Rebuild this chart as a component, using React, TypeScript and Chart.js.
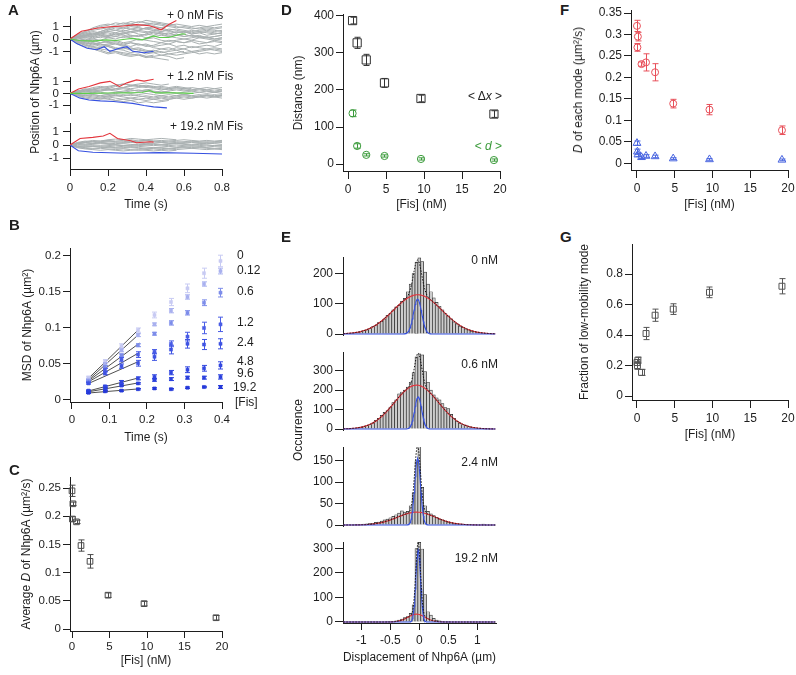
import React, { useEffect, useRef } from "react";
import { Chart, registerables } from "chart.js";

Chart.register(...registerables);

/* ====================== DATA ====================== */

// ---- Panel A: single-molecule trajectories (time s, position µm)
const A_TIME = [0, 0.04, 0.08, 0.12, 0.16, 0.2, 0.24, 0.28, 0.32, 0.36, 0.4, 0.44, 0.48, 0.52, 0.56, 0.6, 0.64, 0.68, 0.72, 0.76, 0.8];
const A_X_TICKS = [0, 0.2, 0.4, 0.6, 0.8];
const A_Y_TICKS = [-1, 0, 1];
const A_LABELS = ["+ 0 nM Fis", "+ 1.2 nM Fis", "+ 19.2 nM Fis"];

const A1_GRAY = [
  [0, 0.3, 0.5, 0.7, 0.8, 0.9, 1.0, 1.1, 1.2, 1.1, 1.2, 1.3, 1.2, 1.1, 1.2, 1.1, 1.0, 1.1, 1.0, 0.9, 1.0],
  [0, -0.3, -0.5, -0.7, -0.8, -0.9, -1.0, -1.1, -1.2, -1.3, -1.4, -1.5, -1.6, -1.7],
  [0, 0.2, 0.3, 0.5, 0.4, 0.6, 0.7, 0.6, 0.8, 0.9, 0.8, 0.7, 0.8, 0.6, 0.5, 0.6, 0.4, 0.5, 0.3, 0.4, 0.5],
  [0, -0.2, -0.3, -0.4, -0.6, -0.5, -0.7, -0.8, -0.7, -0.9, -1.0, -1.1, -1.0, -1.2, -1.3, -1.2, -1.1, -1.0, -0.9, -0.8, -0.9],
  [0, 0.1, 0.2, 0.1, 0.3, 0.2, 0.4, 0.3, 0.2, 0.3, 0.1, 0.2, 0.3, 0.2, 0.1, 0.0, 0.1, 0.2, 0.1, 0.0, 0.1],
  [0, -0.1, 0.0, -0.2, -0.1, -0.3, -0.2, -0.4, -0.3, -0.5, -0.4, -0.6, -0.5, -0.4, -0.6, -0.5, -0.7, -0.6, -0.5, -0.6, -0.4],
  [0, 0.3, 0.6, 0.8, 1.0, 1.1, 1.3, 1.2, 1.4, 1.3, 1.5, 1.4, 1.3],
  [0, -0.2, -0.5, -0.6, -0.9, -1.1, -1.0, -1.2, -1.3, -1.2, -1.4, -1.3],
  [0, 0.1, 0.3, 0.2, 0.4, 0.5, 0.3, 0.5, 0.6, 0.4, 0.3, 0.5, 0.4, 0.2, 0.3, 0.4, 0.2, 0.3, 0.1, 0.2, 0.3],
  [0, -0.1, -0.2, -0.1, -0.3, -0.2, -0.1, -0.3, -0.2, 0.0, -0.1, -0.2, -0.3, -0.1, -0.2, -0.3, -0.2, -0.4, -0.3, -0.2, -0.3],
  [0, 0.2, 0.4, 0.6, 0.5, 0.7, 0.9, 0.8, 1.0, 0.9, 0.8, 1.0, 0.9, 0.7, 0.8, 0.7, 0.6, 0.7, 0.8, 0.7, 0.6],
  [0, -0.3, -0.4, -0.6, -0.7, -0.6, -0.8, -0.7, -0.9, -0.8, -1.0, -0.9, -1.1, -1.0, -0.9, -1.1, -1.0, -1.2, -1.1, -1.2, -1.1],
  [0, 0.1, -0.1, 0.0, 0.2, 0.1, 0.0, 0.2, 0.1, -0.1, 0.0, 0.1, -0.1, -0.2, -0.1, 0.0, -0.1, 0.1, 0.0, -0.1, 0.0],
  [0, 0.2, 0.1, 0.3, 0.4, 0.3, 0.5, 0.7, 0.6, 0.7, 0.9, 1.0, 0.9, 1.1, 1.0, 0.9, 0.8, 0.9, 1.0, 1.1, 1.2],
  [0, -0.2, -0.1, -0.3, -0.4, -0.5, -0.4, -0.6, -0.8, -0.7, -0.9, -1.0, -0.8, -0.9, -0.7, -0.8, -0.6, -0.7, -0.8, -0.7, -0.8],
  [0, 0.1, 0.3, 0.4, 0.3, 0.2, 0.4, 0.5, 0.3, 0.2, 0.4, 0.6, 0.5, 0.3, 0.4, 0.2, 0.3, 0.1, 0.2, 0.0, 0.1],
  [0, 0.4, 0.6, 0.9, 1.1, 1.2, 1.1, 1.3, 1.2, 1.4, 1.3, 1.2, 1.1, 1.0, 0.9, 1.0, 0.9, 0.8, 0.9, 0.8, 0.9],
  [0, -0.4, -0.6, -0.8, -1.0, -1.2, -1.1, -1.3, -1.4, -1.3, -1.5, -1.4, -1.3, -1.2, -1.1, -1.0],
  [0, 0.2, 0.4, 0.3, 0.5, 0.6, 0.5, 0.4, 0.6, 0.7, 0.6, 0.5, 0.4, 0.5, 0.3, 0.2, 0.3, 0.2, 0.1, 0.2, 0.3],
  [0, -0.2, -0.4, -0.3, -0.5, -0.4, -0.3, -0.5, -0.6, -0.4, -0.5, -0.7, -0.8, -0.7, -0.9, -0.8, -1.0, -0.9, -0.8, -0.9, -1.0],
  [0, 0.1, 0.2, 0.4, 0.6, 0.8, 0.7, 0.9, 1.1, 1.0, 1.2, 1.1, 1.3, 1.2, 1.1],
  [0, -0.1, -0.3, -0.5, -0.4, -0.6, -0.8, -0.9, -1.1, -1.0, -1.2, -1.1, -1.3, -1.4, -1.6, -1.5],
  [0, 0.0, 0.1, 0.0, -0.1, 0.1, 0.2, 0.1, 0.3, 0.2, 0.4, 0.3, 0.5, 0.4, 0.6, 0.5, 0.7, 0.6, 0.5, 0.4, 0.5],
  [0, 0.2, 0.3, 0.2, 0.1, 0.3, 0.2, 0.4, 0.5, 0.6, 0.5, 0.7, 0.6, 0.8, 0.7, 0.6, 0.5, 0.6, 0.7, 0.6, 0.7],
  [0, -0.3, -0.2, -0.4, -0.3, -0.2, -0.4, -0.5, -0.3, -0.4, -0.6, -0.5, -0.3, -0.4, -0.2, -0.3, -0.1, -0.2, -0.3, -0.1, -0.2],
  [0, 0.3, 0.5, 0.4, 0.6, 0.8, 1.0, 0.9, 0.8, 0.7, 0.9, 0.8, 0.6, 0.7, 0.5, 0.6, 0.4, 0.5, 0.6, 0.5, 0.4],
];
const A2_GRAY = [
  [0, 0.2, 0.3, 0.4, 0.5, 0.4, 0.6, 0.5, 0.7, 0.6, 0.5, 0.6, 0.5, 0.4, 0.5, 0.4, 0.3, 0.4, 0.3, 0.4, 0.3],
  [0, -0.2, -0.3, -0.4, -0.5, -0.4, -0.6, -0.7, -0.6, -0.8, -0.7, -0.8, -0.7, -0.6],
  [0, 0.1, 0.2, 0.1, 0.2, 0.3, 0.2, 0.1, 0.2, 0.3, 0.2, 0.1, 0.2, 0.1, 0.0, 0.1, 0.2, 0.1, 0.2, 0.1, 0.2],
  [0, -0.1, -0.2, -0.1, -0.2, -0.3, -0.2, -0.3, -0.4, -0.3, -0.2, -0.3, -0.2, -0.3, -0.2, -0.1, -0.2, -0.3, -0.2, -0.3, -0.2],
  [0, 0.1, 0.3, 0.5, 0.6, 0.5, 0.7, 0.8, 0.7, 0.6, 0.7, 0.6],
  [0, -0.1, 0.0, 0.1, 0.0, -0.1, 0.0, 0.1, 0.0, 0.1, 0.2, 0.1, 0.0, 0.1, 0.0, -0.1, 0.0, 0.1, 0.0, 0.1, 0.0],
  [0, -0.2, -0.4, -0.5, -0.4, -0.5, -0.6, -0.5, -0.4, -0.5, -0.4, -0.5, -0.6, -0.5, -0.4, -0.3, -0.4, -0.3, -0.4, -0.3, -0.4],
  [0, 0.2, 0.3, 0.2, 0.3, 0.4, 0.3, 0.4, 0.3, 0.2, 0.3, 0.4, 0.3, 0.4, 0.5, 0.4, 0.5, 0.4, 0.5, 0.4, 0.5],
  [0, 0.1, 0.0, -0.1, -0.2, -0.1, -0.2, -0.1, -0.2, -0.1, 0.0, -0.1, -0.2, -0.1, -0.2, -0.1, -0.2, -0.1, -0.2, -0.1, -0.2],
  [0, 0.2, 0.4, 0.3, 0.5, 0.6, 0.7, 0.8, 0.7, 0.8, 0.9, 0.8, 0.7, 0.8],
  [0, 0.1, 0.2, 0.3, 0.2, 0.3, 0.4, 0.5, 0.4, 0.5, 0.6, 0.5, 0.4, 0.3, 0.4, 0.3, 0.2, 0.3, 0.2, 0.1, 0.2],
  [0, -0.1, -0.2, -0.3, -0.4, -0.3, -0.4, -0.5, -0.6, -0.5, -0.6, -0.5, -0.4, -0.5, -0.4, -0.5, -0.4, -0.3, -0.2, -0.3, -0.2],
  [0, 0.2, 0.1, 0.2, 0.1, 0.0, 0.1, 0.2, 0.3, 0.2, 0.3, 0.2, 0.1, 0.2, 0.3, 0.2, 0.3, 0.4, 0.3, 0.2, 0.3],
  [0, -0.2, -0.1, -0.2, -0.3, -0.2, -0.1, -0.2, -0.1, -0.2, -0.3, -0.4, -0.3, -0.4, -0.3, -0.2, -0.3, -0.2, -0.1, -0.2, -0.1],
  [0, 0.1, 0.2, 0.3, 0.4, 0.3, 0.4, 0.5, 0.6, 0.7, 0.6, 0.5, 0.6, 0.5, 0.6, 0.5, 0.4],
];
const A3_GRAY = [
  [0, 0.2, 0.3, 0.25, 0.3, 0.35, 0.3, 0.35, 0.4, 0.3, 0.35, 0.3, 0.35, 0.3, 0.35, 0.4, 0.35, 0.3, 0.35, 0.3, 0.35],
  [0, -0.2, -0.25, -0.3, -0.25, -0.3, -0.35, -0.3, -0.35, -0.4, -0.35, -0.3, -0.35, -0.3, -0.35, -0.3, -0.25, -0.3, -0.35, -0.3, -0.35],
  [0, 0.1, 0.15, 0.1, 0.2, 0.15, 0.1, 0.15, 0.2, 0.15, 0.1, 0.15, 0.2, 0.15, 0.1, 0.15, 0.2, 0.15, 0.1, 0.15, 0.2],
  [0, -0.1, -0.15, -0.1, -0.05, -0.1, -0.15, -0.1, -0.05, -0.1, -0.15, -0.2, -0.15, -0.1, -0.15, -0.1, -0.05, -0.1, -0.15, -0.1, -0.05],
  [0, 0.05, 0.0, 0.05, 0.1, 0.05, 0.0, -0.05, 0.0, 0.05, 0.0, -0.05, 0.0, 0.05, 0.1, 0.05, 0.0, 0.05, 0.0, -0.05, 0.0],
  [0, 0.15, 0.25, 0.35, 0.3, 0.4, 0.45, 0.4, 0.5, 0.45, 0.4, 0.45, 0.5, 0.45, 0.4],
  [0, -0.15, -0.2, -0.25, -0.2, -0.15, -0.2, -0.25, -0.2, -0.25, -0.3, -0.25, -0.2, -0.25, -0.2, -0.15, -0.2, -0.15, -0.2, -0.25, -0.2],
  [0, 0.1, 0.2, 0.25, 0.2, 0.25, 0.2, 0.25, 0.3, 0.25, 0.2, 0.25, 0.2, 0.15, 0.2, 0.25, 0.3, 0.25, 0.2, 0.25, 0.3],
  [0, -0.05, -0.1, -0.05, -0.1, -0.05, 0.0, -0.05, -0.1, -0.05, 0.0, 0.05, 0.0, -0.05, 0.0, -0.05, -0.1, -0.05, 0.0, -0.05, -0.1],
  [0, 0.1, 0.05, 0.1, 0.15, 0.1, 0.05, 0.1, 0.05, 0.0, 0.05, 0.1, 0.05, 0.1, 0.15, 0.1, 0.05, 0.1, 0.15, 0.1, 0.05],
  [0, -0.1, -0.05, -0.1, -0.15, -0.2, -0.25, -0.2, -0.15, -0.2, -0.25, -0.2, -0.25, -0.3, -0.25, -0.2, -0.25, -0.2, -0.25, -0.3, -0.25],
  [0, 0.15, 0.2, 0.15, 0.25, 0.3, 0.25, 0.2, 0.25, 0.3, 0.35, 0.3, 0.25, 0.3, 0.25, 0.2, 0.25, 0.2, 0.25, 0.2, 0.25],
  [0, -0.2, -0.3, -0.35, -0.4, -0.35, -0.4, -0.45, -0.4, -0.35, -0.4, -0.45, -0.4, -0.45, -0.4],
];
const A1_RED_T = [0, 0.06, 0.14, 0.21, 0.28, 0.35, 0.42, 0.48, 0.52, 0.56];
const A1_RED_Y = [0, 0.62, 0.86, 0.99, 1.04, 1.16, 1.06, 0.74, 1.16, 1.48];
const A1_BLUE_T = [0, 0.035, 0.09, 0.14, 0.18, 0.21, 0.26, 0.3, 0.33, 0.39, 0.44];
const A1_BLUE_Y = [0, -0.37, -0.74, -0.86, -0.62, -0.99, -0.74, -0.62, -0.99, -1.11, -0.99];
const A1_GREEN_T = [0, 0.05, 0.12, 0.19, 0.24, 0.3, 0.33, 0.38, 0.44, 0.47, 0.52, 0.59, 0.61];
const A1_GREEN_Y = [0, -0.12, -0.17, -0.07, -0.12, 0, 0.05, -0.07, 0.25, 0.12, 0.12, 0.42, 0.38];
const A2_RED_T = [0, 0.045, 0.1, 0.16, 0.21, 0.26, 0.3, 0.35, 0.39, 0.44];
const A2_RED_Y = [0, 0.38, 0.59, 0.9, 1.03, 0.59, 0.9, 1.15, 1.05, 1.21];
const A2_BLUE_T = [0, 0.05, 0.1, 0.16, 0.23, 0.28, 0.33, 0.39, 0.44, 0.51];
const A2_BLUE_Y = [0, -0.38, -0.56, -0.64, -0.69, -0.77, -0.85, -1.03, -1.15, -1.23];
const A2_GREEN_T = [0, 0.1, 0.2, 0.3, 0.38, 0.42, 0.45, 0.55, 0.65];
const A2_GREEN_Y = [0, 0.0, 0.03, 0.05, 0.08, 0.25, 0.05, 0.05, 0.0];
const A3_RED_T = [0, 0.053, 0.12, 0.175, 0.21, 0.25, 0.32, 0.35, 0.42, 0.44];
const A3_RED_Y = [0, 0.5, 0.58, 0.68, 0.89, 0.5, 0.33, 0.17, 0.25, 0.22];
const A3_BLUE_T = [0, 0.044, 0.12, 0.3, 0.47, 0.65, 0.8];
const A3_BLUE_Y = [0, -0.43, -0.55, -0.63, -0.58, -0.63, -0.68];

// ---- Panel B: MSD vs time for each [Fis]
const MSD_T = [0.044, 0.088, 0.132, 0.176, 0.22, 0.264, 0.308, 0.352, 0.396];
const MSD_FIS = ["0", "0.12", "0.6", "1.2", "2.4", "4.8", "9.6", "19.2"];
const MSD_VALUES = [
  [0.031, 0.054, 0.075, 0.097, 0.118, 0.136, 0.155, 0.176, 0.193],
  [0.029, 0.05, 0.069, 0.09, 0.105, 0.124, 0.143, 0.161, 0.179],
  [0.027, 0.046, 0.062, 0.076, 0.092, 0.107, 0.121, 0.135, 0.149],
  [0.025, 0.042, 0.056, 0.063, 0.067, 0.078, 0.088, 0.1, 0.105],
  [0.023, 0.037, 0.047, 0.051, 0.06, 0.07, 0.078, 0.077, 0.078],
  [0.013, 0.019, 0.025, 0.03, 0.032, 0.038, 0.042, 0.044, 0.048],
  [0.012, 0.016, 0.02, 0.023, 0.028, 0.029, 0.031, 0.031, 0.032],
  [0.01, 0.012, 0.013, 0.015, 0.016, 0.015, 0.017, 0.018, 0.018],
];
const MSD_ERRORS = [
  [0.002, 0.002, 0.003, 0.003, 0.004, 0.005, 0.006, 0.007, 0.008],
  [0.001, 0.002, 0.002, 0.002, 0.002, 0.003, 0.003, 0.003, 0.004],
  [0.001, 0.002, 0.002, 0.002, 0.002, 0.003, 0.003, 0.004, 0.006],
  [0.001, 0.002, 0.003, 0.004, 0.003, 0.004, 0.006, 0.008, 0.01],
  [0.001, 0.002, 0.003, 0.004, 0.005, 0.006, 0.006, 0.007, 0.007],
  [0.001, 0.001, 0.002, 0.002, 0.003, 0.003, 0.004, 0.004, 0.005],
  [0.001, 0.001, 0.001, 0.001, 0.002, 0.002, 0.002, 0.002, 0.003],
  [0.001, 0.001, 0.001, 0.001, 0.001, 0.001, 0.001, 0.001, 0.002],
];
const MSD_FIT_T = [0.04, 0.18];
const MSD_FIT_START = [0.028, 0.026, 0.025, 0.024, 0.022, 0.012, 0.011, 0.0095];
const MSD_FIT_END = [0.099, 0.092, 0.079, 0.066, 0.054, 0.031, 0.024, 0.0155];
const B_X_TICKS = [0, 0.1, 0.2, 0.3, 0.4];
const B_Y_TICKS = [0, 0.05, 0.1, 0.15, 0.2];

// ---- Shared Fis concentrations (nM) for C, F, G
const FIS = [0, 0.06, 0.12, 0.6, 1.2, 2.4, 4.8, 9.6, 19.2];
const FIS_TICKS = [0, 5, 10, 15, 20];

// ---- Panel C: average D
const C_D = [0.245, 0.195, 0.222, 0.19, 0.148, 0.12, 0.06, 0.045, 0.02];
const C_ERR = [0.01, 0.004, 0.003, 0.003, 0.01, 0.012, 0.004, 0.004, 0.004];
const C_Y_TICKS = [0, 0.05, 0.1, 0.15, 0.2, 0.25];

// ---- Panel D: distances
const D_FIS = [0.6, 1.2, 2.4, 4.8, 9.6, 19.2];
const D_DX = [387, 327, 281, 219, 177, 135];
const D_DX_ERR = [9, 15, 15, 12, 9, 9];
const D_SMALL = [137, 49, 25, 22, 14, 11];
const D_SMALL_ERR = [9, 6, 3, 3, 3, 3];
const D_Y_TICKS = [0, 100, 200, 300, 400];

// ---- Panel E: displacement histograms
const HIST_BINS = [-1.25, -1.2, -1.15, -1.1, -1.05, -1.0, -0.95, -0.9, -0.85, -0.8, -0.75, -0.7, -0.65, -0.6, -0.55, -0.5, -0.45, -0.4, -0.35, -0.3, -0.25, -0.2, -0.15, -0.1, -0.05, 0, 0.05, 0.1, 0.15, 0.2, 0.25, 0.3, 0.35, 0.4, 0.45, 0.5, 0.55, 0.6, 0.65, 0.7, 0.75, 0.8, 0.85, 0.9, 0.95, 1.0, 1.05, 1.1, 1.15, 1.2, 1.25];
const E_LABELS = ["0 nM", "0.6 nM", "2.4 nM", "19.2 nM"];
const E_COUNTS_0 = [0, 2, 3, 4, 6, 8, 12, 14, 18, 25, 28, 38, 42, 50, 62, 68, 80, 90, 95, 108, 118, 140, 165, 200, 238, 252, 240, 205, 165, 140, 120, 105, 92, 80, 68, 60, 50, 40, 34, 26, 22, 17, 14, 10, 8, 6, 4, 3, 2, 1, 0];
const E_COUNTS_06 = [0, 1, 2, 4, 6, 9, 12, 18, 22, 30, 45, 55, 70, 85, 95, 112, 135, 150, 180, 190, 200, 215, 240, 290, 370, 385, 380, 295, 240, 200, 175, 160, 150, 130, 110, 105, 75, 55, 40, 30, 22, 20, 12, 8, 5, 4, 3, 2, 1, 0, 0];
const E_COUNTS_24 = [0, 0, 0, 1, 0, 1, 2, 3, 4, 4, 6, 7, 9, 12, 14, 17, 20, 24, 28, 33, 30, 32, 45, 75, 150, 185, 88, 45, 32, 26, 22, 18, 14, 12, 9, 7, 5, 4, 3, 2, 2, 1, 1, 0, 0, 0, 0, 2, 0, 0, 0];
const E_COUNTS_192 = [0, 0, 0, 0, 0, 0, 0, 0, 0, 0, 0, 0, 0, 0, 1, 2, 3, 5, 8, 12, 18, 22, 35, 70, 300, 325, 298, 112, 42, 28, 15, 8, 5, 3, 2, 1, 0, 0, 0, 0, 0, 0, 0, 0, 0, 0, 0, 0, 0, 0, 0];
// Gaussian fit parameters: amplitude, centre (µm), sigma (µm)
const E_FAST_FIT = [
  { a: 130, mu: -0.03, s: 0.42 },
  { a: 225, mu: -0.05, s: 0.38 },
  { a: 30, mu: -0.05, s: 0.33 },
  { a: 32, mu: -0.05, s: 0.15 },
];
const E_SLOW_FIT = [
  { a: 115, mu: -0.03, s: 0.07 },
  { a: 165, mu: -0.02, s: 0.06 },
  { a: 155, mu: -0.03, s: 0.05 },
  { a: 295, mu: -0.02, s: 0.04 },
];
const E_X_TICKS = [-1, -0.5, 0, 0.5, 1];
const E_Y_TICKS = [[0, 100, 200], [0, 100, 200, 300], [0, 50, 100, 150], [0, 100, 200, 300]];

// ---- Panel F: D of each mode
const F_FAST = [0.32, 0.27, 0.295, 0.231, 0.235, 0.212, 0.139, 0.125, 0.077];
const F_FAST_ERR = [0.013, 0.009, 0.01, 0.005, 0.02, 0.02, 0.01, 0.012, 0.01];
const F_SLOW = [0.047, 0.027, 0.02, 0.014, 0.017, 0.016, 0.011, 0.009, 0.008];
const F_SLOW_ERR = [0.005, 0.006, 0.004, 0.003, 0.003, 0.003, 0.002, 0.002, 0.002];
const F_Y_TICKS = [0, 0.05, 0.1, 0.15, 0.2, 0.25, 0.3, 0.35];

// ---- Panel G: fraction of low-mobility mode
const G_FRAC = [0.22, 0.2, 0.235, 0.155, 0.41, 0.53, 0.57, 0.68, 0.72];
const G_ERR = [0.02, 0.025, 0.02, 0.02, 0.04, 0.04, 0.035, 0.035, 0.05];
const G_Y_TICKS = [0, 0.2, 0.4, 0.6, 0.8];

/* ====================== STYLE ====================== */
const FONT = "'Liberation Sans', Arial, Helvetica, sans-serif";
const INK = "#1e1e1e";
const GRAY_TRACE = "#a9b0b1";
const RED = "#e3353c";
const BLUE = "#3550e0";
const GREEN = "#5ccd4a";
const MSD_COLORS = ["#c8cbf3", "#a9b1ef", "#7d8dea", "#4a5de6", "#3e53e3", "#3247e0", "#2b40dd", "#2438d9"];

type Rect = { L: number; T: number; R: number; B: number };
type Margin = { l: number; t: number; r: number; b: number };

const errorBarPlugin = {
  id: "errorBars",
  afterDatasetsDraw(chart: any) {
    const ctx = chart.ctx;
    const ys = chart.scales.y;
    chart.data.datasets.forEach((ds: any, i: number) => {
      if (!ds.errors) return;
      const meta = chart.getDatasetMeta(i);
      const cap = ds.errCap ?? 2.5;
      ctx.save();
      ctx.strokeStyle = ds.errColor ?? ds.borderColor;
      ctx.lineWidth = 1;
      meta.data.forEach((el: any, j: number) => {
        const e = ds.errors[j];
        if (!e) return;
        const v = ds.data[j].y;
        const x = Math.round(el.x) + 0.5;
        const y1 = ys.getPixelForValue(v - e);
        const y2 = ys.getPixelForValue(v + e);
        ctx.beginPath();
        ctx.moveTo(x, y1);
        ctx.lineTo(x, y2);
        ctx.moveTo(x - cap, y1);
        ctx.lineTo(x + cap, y1);
        ctx.moveTo(x - cap, y2);
        ctx.lineTo(x + cap, y2);
        ctx.stroke();
      });
      ctx.restore();
    });
  },
};

type AxisSpec = {
  pos: "left" | "bottom";
  min: number;
  max: number;
  ticks: number[];
  size: number;
  title?: string;
  show?: boolean;
  tickLen?: number;
  pad?: number;
  fs?: number;
};

function axis(a: AxisSpec) {
  const horiz = a.pos === "bottom";
  return {
    type: "linear",
    position: a.pos,
    min: a.min,
    max: a.max,
    display: a.show !== false,
    offset: false,
    afterBuildTicks: (s: any) => {
      s.ticks = a.ticks.map((v) => ({ value: v }));
    },
    afterFit: (s: any) => {
      if (horiz) {
        s.height = a.size;
        s.paddingLeft = 0;
        s.paddingRight = 0;
      } else {
        s.width = a.size;
        s.paddingTop = 0;
        s.paddingBottom = 0;
      }
    },
    ticks: {
      autoSkip: false,
      maxRotation: 0,
      minRotation: 0,
      padding: a.pad ?? 3,
      color: INK,
      font: { family: FONT, size: a.fs ?? 12 },
      callback: (v: any) => String(v),
    },
    grid: {
      display: true,
      offset: false,
      drawOnChartArea: false,
      drawTicks: true,
      tickLength: a.tickLen ?? 6,
      tickColor: INK,
      tickWidth: 1,
      color: INK,
    },
    border: { display: true, color: INK, width: 1 },
    title: a.title
      ? { display: true, text: a.title, color: INK, font: { family: FONT, size: 12 }, padding: 0 }
      : { display: false },
  };
}

function makeConfig(type: string, datasets: any[], scales: any, m: Margin, xShown: boolean) {
  return {
    type,
    data: { datasets },
    options: {
      responsive: false,
      maintainAspectRatio: false,
      animation: false,
      devicePixelRatio: 1,
      events: [],
      layout: { padding: { left: 0, top: m.t, right: m.r, bottom: xShown ? 0 : m.b } },
      plugins: { legend: { display: false }, tooltip: { enabled: false }, title: { display: false } },
      scales,
    },
    plugins: [errorBarPlugin],
  };
}

function ChartPanel({ plot, m, build }: { plot: Rect; m: Margin; build: (m: Margin) => any }) {
  const ref = useRef<HTMLCanvasElement>(null);
  const w = plot.R - plot.L + m.l + m.r;
  const h = plot.B - plot.T + m.t + m.b;
  useEffect(() => {
    const chart = new Chart(ref.current as HTMLCanvasElement, build(m));
    return () => chart.destroy();
  }, []);
  return (
    <canvas
      ref={ref}
      width={w}
      height={h}
      style={{ position: "absolute", left: plot.L - m.l, top: plot.T - m.t, width: w, height: h }}
    />
  );
}

/* ====================== CHART BUILDERS ====================== */
const pts = (xs: number[], ys: number[]) => xs.map((x, k) => ({ x, y: ys[k] }));

function trajConfig(
  gray: number[][],
  colored: { t: number[]; y: number[]; c: string }[],
  yMin: number,
  yMax: number,
  showX: boolean
) {
  return (m: Margin) => {
    const ds = [
      ...colored.map((c) => ({
        data: pts(c.t, c.y),
        showLine: true,
        borderColor: c.c,
        borderWidth: 1.1,
        pointRadius: 0,
        order: 0,
      })),
      ...gray.map((g) => ({
        data: g.map((y, k) => ({ x: A_TIME[k], y })),
        showLine: true,
        borderColor: GRAY_TRACE,
        borderWidth: 1,
        pointRadius: 0,
        order: 1,
      })),
    ];
    const scales = {
      x: axis({ pos: "bottom", min: 0, max: 0.8, ticks: A_X_TICKS, size: m.b, show: showX, title: showX ? "Time (s)" : undefined, tickLen: 7, pad: 5, fs: 11.5 }),
      y: axis({ pos: "left", min: yMin, max: yMax, ticks: A_Y_TICKS, size: m.l, tickLen: 7, pad: 4, fs: 11.5 }),
    };
    return makeConfig("scatter", ds, scales, m, showX);
  };
}

function msdConfig(m: Margin) {
  const fits = MSD_FIT_START.map((s, i) => ({
    data: pts(MSD_FIT_T, [s, MSD_FIT_END[i]]),
    showLine: true,
    borderColor: "#222",
    borderWidth: 0.8,
    pointRadius: 0,
    order: 2,
  }));
  const series = MSD_VALUES.map((v, i) => ({
    data: pts(MSD_T, v),
    pointStyle: "rect",
    pointRadius: 2.2,
    backgroundColor: MSD_COLORS[i],
    borderColor: MSD_COLORS[i],
    borderWidth: 0.5,
    errors: MSD_ERRORS[i],
    errCap: 2.5,
    clip: false,
    order: 1,
  }));
  const scales = {
    x: axis({ pos: "bottom", min: -0.0053, max: 0.4, ticks: B_X_TICKS, size: m.b, title: "Time (s)", tickLen: 7, pad: 4, fs: 11.5 }),
    y: axis({ pos: "left", min: -0.0028, max: 0.211, ticks: B_Y_TICKS, size: m.l, title: "MSD of Nhp6A (µm²)", tickLen: 7, pad: 2, fs: 11.5 }),
  };
  return makeConfig("scatter", [...series, ...fits], scales, m, true);
}

function avgDConfig(m: Margin) {
  const ds = [
    {
      data: pts(FIS, C_D),
      pointStyle: "rect",
      pointRadius: 4,
      backgroundColor: "rgba(0,0,0,0)",
      borderColor: "#4a4a4a",
      borderWidth: 1,
      errors: C_ERR,
      errCap: 3,
      clip: false,
    },
  ];
  const scales = {
    x: axis({ pos: "bottom", min: -0.267, max: 20, ticks: FIS_TICKS, size: m.b, title: "[Fis] (nM)", tickLen: 7, pad: 2, fs: 11.5 }),
    y: axis({ pos: "left", min: -0.0035, max: 0.2695, ticks: C_Y_TICKS, size: m.l, tickLen: 7, pad: 2, fs: 11.5 }),
  };
  return makeConfig("scatter", ds, scales, m, true);
}

function distConfig(m: Margin) {
  const ds = [
    {
      data: pts(D_FIS, D_DX),
      pointStyle: "rect",
      pointRadius: 5.8,
      backgroundColor: "rgba(0,0,0,0)",
      borderColor: "#333",
      borderWidth: 1,
      errors: D_DX_ERR,
      errCap: 3,
      clip: false,
    },
    {
      data: pts(D_FIS, D_SMALL),
      pointStyle: "circle",
      pointRadius: 3.6,
      backgroundColor: "rgba(0,0,0,0)",
      borderColor: "#3b9b3b",
      borderWidth: 1,
      errors: D_SMALL_ERR,
      errCap: 3,
      clip: false,
    },
  ];
  const scales = {
    x: axis({ pos: "bottom", min: -0.66, max: 20, ticks: FIS_TICKS, size: m.b, title: "[Fis] (nM)", tickLen: 8, pad: 3 }),
    y: axis({ pos: "left", min: -18.5, max: 402.6, ticks: D_Y_TICKS, size: m.l, title: "Distance (nm)", tickLen: 7, pad: 2 }),
  };
  return makeConfig("scatter", ds, scales, m, true);
}

const FIT_X = Array.from({ length: 263 }, (_, k) => -1.31 + k * 0.01);
const gauss = (p: { a: number; mu: number; s: number }, x: number) =>
  p.a * Math.exp(-((x - p.mu) ** 2) / (2 * p.s * p.s));

function histConfig(i: number, counts: number[], yMin: number, yMax: number, showX: boolean) {
  return (m: Margin) => {
    const fast = E_FAST_FIT[i];
    const slow = E_SLOW_FIT[i];
    const ds = [
      {
        type: "bar",
        data: pts(HIST_BINS, counts),
        backgroundColor: "#cdcdcd",
        borderColor: "#2a2a2a",
        borderWidth: 0.7,
        borderSkipped: "bottom",
        barPercentage: 1,
        categoryPercentage: 1,
        order: 4,
      },
      {
        type: "line",
        data: FIT_X.map((x) => ({ x, y: gauss(fast, x) })),
        borderColor: RED,
        borderWidth: 1.1,
        pointRadius: 0,
        order: 3,
      },
      {
        type: "line",
        data: FIT_X.map((x) => ({ x, y: gauss(slow, x) })),
        borderColor: BLUE,
        borderWidth: 1.1,
        pointRadius: 0,
        order: 2,
      },
      {
        type: "line",
        data: FIT_X.map((x) => ({ x, y: gauss(fast, x) + gauss(slow, x) })),
        borderColor: "#111",
        borderWidth: 1,
        borderDash: [1.5, 1.5],
        pointRadius: 0,
        order: 1,
      },
    ];
    const scales = {
      x: axis({ pos: "bottom", min: -1.316, max: 1.322, ticks: E_X_TICKS, size: m.b, show: showX, title: showX ? "Displacement of Nhp6A (µm)" : undefined, tickLen: 7, pad: 3 }),
      y: axis({ pos: "left", min: yMin, max: yMax, ticks: E_Y_TICKS[i], size: m.l, tickLen: 8, pad: 2 }),
    };
    return makeConfig("bar", ds, scales, m, showX);
  };
}

function modeConfig(m: Margin) {
  const ds = [
    {
      data: pts(FIS, F_FAST),
      pointStyle: "circle",
      pointRadius: 3.5,
      backgroundColor: "rgba(0,0,0,0)",
      borderColor: "#e8505a",
      borderWidth: 1,
      errors: F_FAST_ERR,
      errCap: 3,
      clip: false,
    },
    {
      data: pts(FIS, F_SLOW),
      pointStyle: "triangle",
      pointRadius: 4.5,
      backgroundColor: "rgba(0,0,0,0)",
      borderColor: "#4a66e0",
      borderWidth: 1,
      errors: F_SLOW_ERR,
      errCap: 3,
      clip: false,
    },
  ];
  const scales = {
    x: axis({ pos: "bottom", min: -0.79, max: 20, ticks: FIS_TICKS, size: m.b, title: "[Fis] (nM)", tickLen: 8, pad: 3 }),
    y: axis({ pos: "left", min: -0.0156, max: 0.357, ticks: F_Y_TICKS, size: m.l, tickLen: 7, pad: 2 }),
  };
  return makeConfig("scatter", ds, scales, m, true);
}

function fracConfig(m: Margin) {
  const ds = [
    {
      data: pts(FIS, G_FRAC),
      pointStyle: "rect",
      pointRadius: 4.2,
      backgroundColor: "rgba(0,0,0,0)",
      borderColor: "#555",
      borderWidth: 1,
      errors: G_ERR,
      errCap: 3,
      clip: false,
    },
  ];
  const scales = {
    x: axis({ pos: "bottom", min: -0.66, max: 20, ticks: FIS_TICKS, size: m.b, title: "[Fis] (nM)", tickLen: 8, pad: 3 }),
    y: axis({ pos: "left", min: -0.026, max: 0.997, ticks: G_Y_TICKS, size: m.l, title: "Fraction of low-mobility mode", tickLen: 7, pad: 2 }),
  };
  return makeConfig("scatter", ds, scales, m, true);
}

/* ====================== TEXT HELPERS ====================== */
function Txt(p: {
  x: number;
  y: number;
  children: React.ReactNode;
  align?: "left" | "right" | "center";
  size?: number;
  bold?: boolean;
  color?: string;
}) {
  return (
    <div
      style={{
        position: "absolute",
        left: p.x,
        top: p.y - 8,
        height: 16,
        lineHeight: "16px",
        whiteSpace: "nowrap",
        fontFamily: FONT,
        fontSize: p.size ?? 12,
        fontWeight: p.bold ? 700 : 400,
        color: p.color ?? INK,
        transform: p.align === "right" ? "translateX(-100%)" : p.align === "center" ? "translateX(-50%)" : undefined,
      }}
    >
      {p.children}
    </div>
  );
}

function VTxt({ cx, cy, children }: { cx: number; cy: number; children: React.ReactNode }) {
  return (
    <div
      style={{
        position: "absolute",
        left: cx,
        top: cy,
        transform: "translate(-50%, -50%) rotate(-90deg)",
        whiteSpace: "nowrap",
        fontFamily: FONT,
        fontSize: 12,
        lineHeight: "14px",
        color: INK,
      }}
    >
      {children}
    </div>
  );
}

/* ====================== LAYOUT ====================== */
const A1_RECT = { L: 70, T: 16, R: 222, B: 67 };
const A2_RECT = { L: 70, T: 77, R: 222, B: 117 };
const A3_RECT = { L: 70, T: 123, R: 222, B: 169 };
const B_RECT = { L: 70, T: 248, R: 222, B: 402 };
const C_RECT = { L: 70, T: 477, R: 222, B: 631 };
const D_RECT = { L: 343, T: 12, R: 500, B: 171 };
const E_RECTS = [
  { L: 343, T: 257, R: 496, B: 337 },
  { L: 343, T: 352, R: 496, B: 432 },
  { L: 343, T: 447, R: 496, B: 528 },
  { L: 343, T: 542, R: 496, B: 623 },
];
const F_RECT = { L: 631, T: 10, R: 788, B: 170 };
const G_RECT = { L: 632, T: 244, R: 788, B: 400 };
const B_LABEL_Y = [255, 270, 291, 322, 342, 361, 373, 387];
const E_LABEL_Y = [260, 364, 462, 558];

export default function App() {
  return (
    <div style={{ position: "fixed", left: 0, top: 0, width: 796, height: 675, background: "#fff", overflow: "hidden" }}>
      <ChartPanel
        plot={A1_RECT}
        m={{ l: 70, t: 6, r: 6, b: 4 }}
        build={trajConfig(
          A1_GRAY,
          [
            { t: A1_GREEN_T, y: A1_GREEN_Y, c: GREEN },
            { t: A1_RED_T, y: A1_RED_Y, c: RED },
            { t: A1_BLUE_T, y: A1_BLUE_Y, c: BLUE },
          ],
          -1.93,
          1.85,
          false
        )}
      />
      <ChartPanel
        plot={A2_RECT}
        m={{ l: 70, t: 4, r: 6, b: 4 }}
        build={trajConfig(
          A2_GRAY,
          [
            { t: A2_GREEN_T, y: A2_GREEN_Y, c: GREEN },
            { t: A2_RED_T, y: A2_RED_Y, c: RED },
            { t: A2_BLUE_T, y: A2_BLUE_Y, c: BLUE },
          ],
          -1.67,
          1.4,
          false
        )}
      />
      <ChartPanel
        plot={A3_RECT}
        m={{ l: 70, t: 4, r: 12, b: 43 }}
        build={trajConfig(
          A3_GRAY,
          [
            { t: A3_RED_T, y: A3_RED_Y, c: RED },
            { t: A3_BLUE_T, y: A3_BLUE_Y, c: BLUE },
          ],
          -1.82,
          1.67,
          true
        )}
      />
      <ChartPanel plot={B_RECT} m={{ l: 50, t: 6, r: 12, b: 43 }} build={msdConfig} />
      <ChartPanel plot={C_RECT} m={{ l: 50, t: 6, r: 12, b: 37 }} build={avgDConfig} />
      <ChartPanel plot={D_RECT} m={{ l: 52, t: 4, r: 12, b: 41 }} build={distConfig} />
      <ChartPanel plot={E_RECTS[0]} m={{ l: 50, t: 4, r: 4, b: 2 }} build={histConfig(0, E_COUNTS_0, -3.2, 255, false)} />
      <ChartPanel plot={E_RECTS[1]} m={{ l: 50, t: 4, r: 4, b: 2 }} build={histConfig(1, E_COUNTS_06, -5, 395, false)} />
      <ChartPanel plot={E_RECTS[2]} m={{ l: 50, t: 4, r: 4, b: 2 }} build={histConfig(2, E_COUNTS_24, -2.3, 182, false)} />
      <ChartPanel plot={E_RECTS[3]} m={{ l: 50, t: 4, r: 12, b: 42 }} build={histConfig(3, E_COUNTS_192, -4.1, 326.5, true)} />
      <ChartPanel plot={F_RECT} m={{ l: 50, t: 6, r: 8, b: 42 }} build={modeConfig} />
      <ChartPanel plot={G_RECT} m={{ l: 55, t: 6, r: 8, b: 42 }} build={fracConfig} />

      {/* panel letters */}
      <Txt x={8} y={10} size={15} bold>A</Txt>
      <Txt x={9} y={225} size={15} bold>B</Txt>
      <Txt x={9} y={470} size={15} bold>C</Txt>
      <Txt x={281} y={10} size={15} bold>D</Txt>
      <Txt x={281} y={237} size={15} bold>E</Txt>
      <Txt x={560} y={10} size={15} bold>F</Txt>
      <Txt x={560} y={237} size={15} bold>G</Txt>

      {/* panel A annotations */}
      <Txt x={167} y={15}>{A_LABELS[0]}</Txt>
      <Txt x={167} y={76}>{A_LABELS[1]}</Txt>
      <Txt x={170} y={126}>{A_LABELS[2]}</Txt>
      <VTxt cx={35} cy={92}>Position of Nhp6A (µm)</VTxt>

      {/* panel B concentration labels */}
      {MSD_FIS.map((s, i) => (
        <Txt key={s} x={i === 7 ? 233 : 237} y={B_LABEL_Y[i]}>{s}</Txt>
      ))}
      <Txt x={235} y={402}>[Fis]</Txt>

      {/* panel C y title */}
      <VTxt cx={26} cy={554}>
        Average <i>D</i> of Nhp6A (µm²/s)
      </VTxt>

      {/* panel D annotations */}
      <Txt x={502} y={96} align="right">
        {"< Δ"}<i>x</i>{" >"}
      </Txt>
      <Txt x={502} y={146} align="right" color="#3b9b3b">
        {"< "}<i>d</i>{" >"}
      </Txt>

      {/* panel E labels */}
      {E_LABELS.map((s, i) => (
        <Txt key={s} x={498} y={E_LABEL_Y[i]} align="right">{s}</Txt>
      ))}
      <VTxt cx={298} cy={430}>Occurrence</VTxt>

      {/* panel F y title */}
      <VTxt cx={578} cy={90}>
        <i>D</i> of each mode (µm²/s)
      </VTxt>
    </div>
  );
}
